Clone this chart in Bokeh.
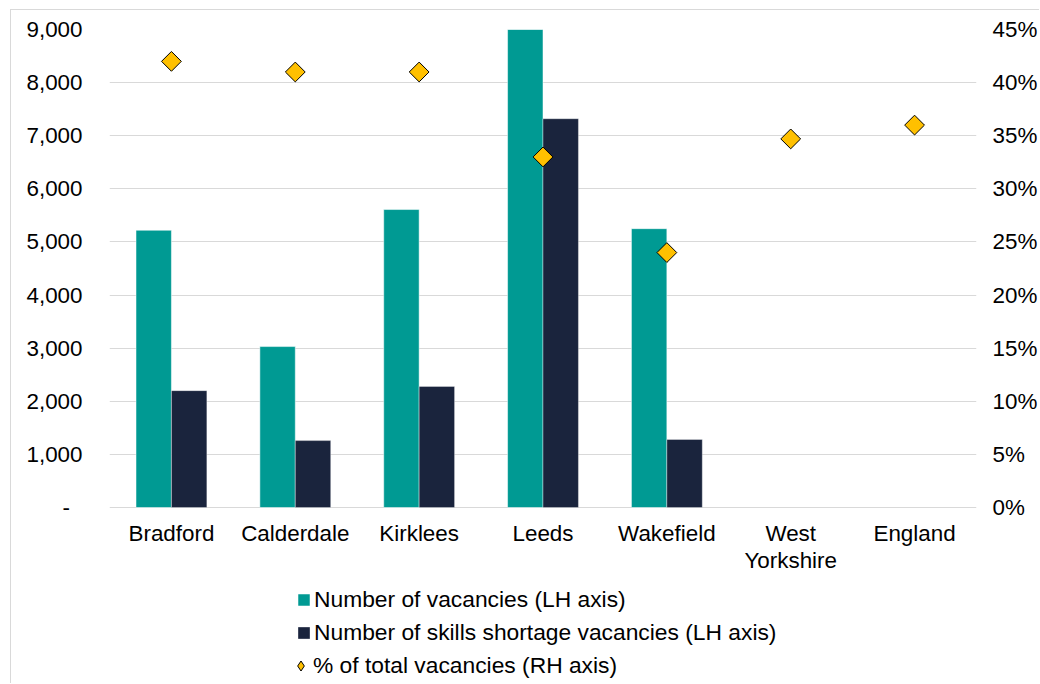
import math
from bokeh.plotting import figure
from bokeh.models import (ColumnDataSource, Range1d, LinearAxis, FixedTicker,
                          Legend, LegendItem)
from bokeh.core.properties import value
from bokeh.transform import dodge
from bokeh.embed import file_html
from bokeh.resources import INLINE

# ---- data ----
categories = ["Bradford", "Calderdale", "Kirklees", "Leeds", "Wakefield",
              "West Yorkshire", "England"]
category_labels = ["Bradford", "Calderdale", "Kirklees", "Leeds", "Wakefield",
                   "West\nYorkshire", "England"]
vacancies = [5220, 3030, 5610, 9000, 5250, None, None]
skills_shortage = [2200, 1260, 2280, 7320, 1280, None, None]
pct_of_total = [42, 41, 41, 33, 24, 34.7, 36]

left_ticks = [0, 1000, 2000, 3000, 4000, 5000, 6000, 7000, 8000, 9000]
left_tick_labels = ["-\u2007", "1,000", "2,000", "3,000", "4,000", "5,000",
                    "6,000", "7,000", "8,000", "9,000"]
right_ticks = [0, 5, 10, 15, 20, 25, 30, 35, 40, 45]
right_tick_labels = ["0%", "5%", "10%", "15%", "20%", "25%", "30%", "35%",
                     "40%", "45%"]

series_names = ["Number of vacancies (LH axis)",
                "Number of skills shortage vacancies (LH axis)",
                "% of total vacancies (RH axis)"]

# ---- styling ----
TEAL = "#009A93"
NAVY = "#1A243D"
GOLD = "#FFC000"
FONT = "Liberation Sans"
FS = "22.4px"
LFS = "22.8px"
GRID = "#D9D9D9"

# layout (canvas pixels)
W, H = 1029, 674
TOP, LEFT, RIGHT = 19, 98, 63
AXIS_Y = 497                      # canvas y of the zero line
plot_px = AXIS_Y - TOP            # pixels for 0..max
below_px = H - AXIS_Y             # room under the zero line (labels, legend)

y_max = left_ticks[-1]
p_max = right_ticks[-1]

nan = float("nan")
src = ColumnDataSource(dict(
    cat=categories,
    lab=category_labels,
    base=[0] * len(categories),
    vac=[nan if v is None else v for v in vacancies],
    ssv=[nan if v is None else v for v in skills_shortage],
    pct=pct_of_total,
))

p = figure(x_range=categories,
           y_range=Range1d(-y_max * below_px / plot_px, y_max),
           width=W, height=H, output_backend="svg",
           toolbar_location=None, x_axis_location=None,
           min_border_left=LEFT, min_border_top=TOP, min_border_right=RIGHT,
           min_border_bottom=0,
           styles={"margin-left": "10px", "margin-top": "9px",
                   "border-left": "1px solid #D9D9D9",
                   "border-top": "1px solid #D9D9D9"})
p.extra_y_ranges = {"pct": Range1d(-p_max * below_px / plot_px, p_max)}
p.outline_line_color = None
p.background_fill_color = "white"
p.border_fill_color = "white"

bw = 0.286
r_vac = p.vbar(x=dodge("cat", -bw / 2, range=p.x_range), top="vac", width=bw,
               source=src, fill_color=TEAL, line_color="white",
               line_alpha=0.5, line_width=1)
r_ssv = p.vbar(x=dodge("cat", bw / 2, range=p.x_range), top="ssv", width=bw,
               source=src, fill_color=NAVY, line_color="white",
               line_alpha=0.35, line_width=1)
# legend proxy for the diamonds (zero size on the plot, diamond in the legend)
r_pct_key = p.scatter(x="cat", y="pct", source=src, y_range_name="pct",
                      marker="diamond", size=0, fill_color=GOLD,
                      line_color="black", line_width=1)
r_pct = p.scatter(x="cat", y="pct", source=src, y_range_name="pct",
                  marker="square", size=14, angle=math.pi / 4,
                  fill_color=GOLD, line_color="black", line_width=1)

# category labels under the zero line
p.text(x="cat", y="base", text="lab", source=src,
       text_font=value(FONT), text_font_size=value(FS), text_color="black",
       text_align="center", text_baseline="top", y_offset=13,
       text_line_height=1.1)

# grid
p.xgrid.grid_line_color = None
p.ygrid.grid_line_color = GRID
p.ygrid.grid_line_width = 1
p.ygrid.ticker = FixedTicker(ticks=left_ticks)

# left axis
ya = p.yaxis[0]
ya.ticker = FixedTicker(ticks=left_ticks)
ya.major_label_overrides = {t: l for t, l in zip(left_ticks, left_tick_labels)}

# right axis
ra = LinearAxis(y_range_name="pct", ticker=FixedTicker(ticks=right_ticks))
ra.major_label_overrides = {t: l for t, l in zip(right_ticks, right_tick_labels)}
p.add_layout(ra, "right")

for ax, standoff in ((ya, 27), (ra, 16)):
    ax.axis_line_color = None
    ax.major_tick_line_color = None
    ax.minor_tick_line_color = None
    ax.major_tick_out = 0
    ax.major_tick_in = 0
    ax.major_label_text_font = FONT
    ax.major_label_text_font_size = FS
    ax.major_label_text_color = "black"
    ax.major_label_standoff = standoff

common = dict(orientation="vertical", label_text_font=FONT,
              label_text_font_size=LFS, label_text_color="black",
              spacing=0, label_height=33, padding=0, margin=0,
              border_line_color=None, background_fill_alpha=0)

legend_bars = Legend(items=[LegendItem(label=series_names[0], renderers=[r_vac]),
                            LegendItem(label=series_names[1], renderers=[r_ssv])],
                     location=(187, 35), glyph_width=15, glyph_height=15,
                     label_standoff=3, **common)
legend_pts = Legend(items=[LegendItem(label=series_names[2], renderers=[r_pct_key])],
                    location=(179, 2), glyph_width=25, glyph_height=25,
                    label_standoff=0, **common)
p.add_layout(legend_bars, "center")
p.add_layout(legend_pts, "center")

open("out.html", "w").write(file_html(p, INLINE))
